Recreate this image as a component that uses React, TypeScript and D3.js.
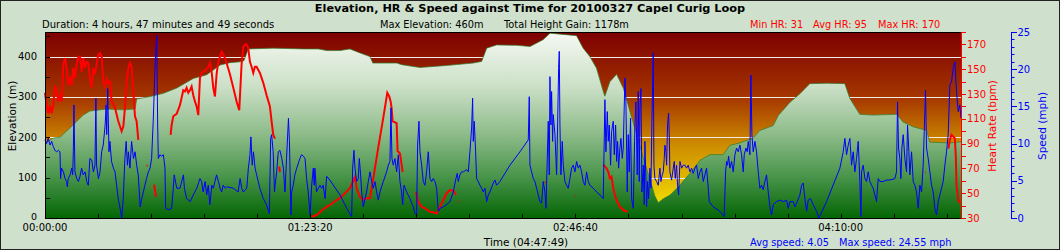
import React from 'react';
import * as d3 from 'd3';

// ---------- data ----------
const totalSeconds = 17269; // 4:47:49
const timeTickSeconds = [0, 5000, 10000, 15000];
const timeTickLabels = ['00:00:00', '01:23:20', '02:46:40', '04:10:00'];
const elevTickLabels = [0, 100, 200, 300, 400];
const hrTickLabels = [30, 50, 70, 90, 110, 130, 150, 170];
const speedTickLabels = [0, 5, 10, 15, 20, 25];

// [minutes, metres]
const elevationProfile: [number, number][] = [
  [0, 185], [2.6, 198], [4.7, 200], [8.9, 231], [12.0, 255], [14.1, 265], [19.4, 270], [24.6, 268],
  [28.3, 270], [28.8, 295], [33.0, 301], [37.2, 309], [41.4, 322], [46.6, 346], [50.8, 355],
  [55.0, 379], [58.1, 385], [61.3, 387], [62.5, 390], [63.9, 419], [71.7, 421], [81.2, 419],
  [85.9, 419], [88.5, 415], [92.7, 415], [95.8, 419], [99.0, 409], [102.1, 400], [103.0, 384],
  [110.5, 384], [112.1, 380], [117.8, 373], [126.2, 378], [134.5, 384], [137.2, 388], [138.8, 421],
  [141.9, 429], [148.2, 428], [152.4, 425], [156.5, 442], [158.7, 458], [162.8, 455], [167.0, 452],
  [169.1, 421], [171.2, 400], [173.3, 371], [175.4, 314], [175.9, 302], [177.5, 338], [179.6, 356],
  [181.7, 322], [183.8, 264], [185.9, 207], [188.0, 149], [190.1, 95], [191.6, 55], [192.7, 38],
  [194.3, 48], [196.4, 57], [198.5, 73], [202.6, 110], [205.8, 143], [208.9, 157], [213.1, 157],
  [215.2, 180], [218.3, 186], [222.5, 198], [224.6, 217], [228.8, 229], [230.4, 254], [234.1, 287],
  [237.2, 308], [240.3, 333], [245.6, 334], [251.3, 333], [252.9, 296], [256.0, 257], [260.2, 255],
  [267.6, 257], [269.6, 238], [272.8, 226], [277.0, 217], [278.0, 188], [284.3, 186], [287.8, 189],
];

// [minutes, bpm] ; null = gap in recording
const heartRate: [number, number | null][] = [
  [0, 131], [0.52, 121], [1.05, 114.5], [1.57, 121], [2.09, 114.5], [2.62, 121], [3.14, 137], [3.66, 133],
  [4.19, 124], [4.71, 129], [5.24, 124], [5.76, 154], [6.28, 159], [6.81, 150], [7.33, 137], [7.85, 144],
  [8.38, 137], [8.9, 151], [9.42, 143], [9.95, 154], [10.47, 160], [10.99, 160], [11.52, 148], [12.04, 159],
  [12.56, 151], [13.09, 156], [13.61, 155], [14.13, 142], [14.66, 135], [15.18, 151], [15.71, 146],
  [16.23, 154], [16.75, 162], [17.28, 163], [17.8, 160], [18.32, 140], [18.85, 136], [19.37, 142],
  [19.89, 139], [20.42, 140], [20.94, 124], [21.99, 119], [23.03, 108], [24.08, 100], [24.61, 104],
  [25.13, 119], [25.65, 140], [26.18, 151], [26.7, 155], [27.22, 152], [27.75, 132], [28.27, 112],
  [28.79, 108], [29.32, 93], [29.4, null],
  [32.0, 72.5], [32.2, 72], [32.3, null],
  [34.3, 57], [34.6, 51], [34.9, 47], [35.0, null],
  [39.47, 97], [39.79, 105], [40.31, 112], [41.36, 114], [42.4, 121], [43.45, 133], [43.97, 132],
  [44.5, 135], [45.02, 131], [45.54, 133], [46.07, 136], [46.59, 129], [47.12, 124], [47.64, 120],
  [48.16, 113], [48.69, 143], [49.21, 147], [49.73, 148], [50.78, 150], [51.3, 152], [51.83, 155],
  [52.35, 148], [52.87, 135], [53.4, 128], [53.92, 146], [54.44, 156], [54.97, 160], [55.49, 164],
  [56.01, 162], [56.54, 159], [57.06, 155], [58.11, 146], [59.16, 135], [60.2, 124], [61.04, 117],
  [61.77, 154], [62.3, 168], [62.82, 170], [63.35, 170], [63.87, 167], [64.39, 156], [64.92, 152],
  [65.44, 147], [65.96, 152], [66.48, 152], [67.53, 147], [68.58, 139], [69.63, 129], [70.67, 120],
  [71.2, 108], [71.72, 97], [72.25, 94], [72.3, null],
  [73.0, 79], [73.2, 78.5], [73.3, null],
  [73.6, 71.5], [73.8, 67], [73.9, null],
  [83.76, 31], [85.33, 32.4], [87.42, 37], [88.47, 39], [89.52, 40.5], [91.61, 44.5], [92.66, 46],
  [95.82, 54], [97.39, 63], [97.92, 54], [98.96, 47], [100.01, 44.5], [101.06, 46], [102.1, 46],
  [103.15, 62], [104.72, 87], [106.3, 111], [107.55, 131], [108.18, 128], [108.6, 124], [108.91, 118.6],
  [109.22, 108], [110.48, 106.5], [110.79, 84], [111.53, 82], [112.05, 73], [112.37, 67], [112.4, null],
  [116.55, 51], [117.29, 43], [118.33, 39], [119.38, 38], [120.95, 35], [122.0, 34.6], [123.05, 33.7],
  [124.09, 39], [125.14, 44.5], [126.19, 50], [127.23, 52.6], [128.28, 52], [129.12, 48.6], [129.2, null],
  [129.8, 43.5], [130.0, 43], [130.1, null],
  [157.0, 59], [157.2, 58.5], [157.3, null],
  [166.4, 48], [166.6, 48], [166.7, null],
  [175.39, 73], [176.44, 70], [176.96, 67.4], [177.49, 62], [178.01, 63.4], [178.54, 54], [179.06, 48.6],
  [179.58, 44.5], [180.63, 39], [181.68, 36.4], [183.04, 35], [183.1, null],
  [276.6, 66.6], [276.8, 66.6], [276.9, null],
  [283.88, 86], [284.3, 93], [284.82, 97], [285.35, 95.7], [285.87, 94.3], [286.19, 79.5], [286.4, 57],
  [286.92, 44.5], [287.45, 42],
];

// [minutes, mph]
const speed: [number, number][] = [
  [0, 10.5], [0.5, 10.0], [1.0, 10.7], [1.6, 9.8], [2.1, 10.3], [2.6, 9.6], [3.1, 9.1], [3.7, 8.9], [4.2, 9.1],
  [4.7, 8.9], [4.9, 5.3], [5.2, 6.7], [5.8, 6.2], [6.3, 5.3], [6.8, 4.9], [7.0, 4.2], [7.3, 5.3], [7.9, 5.8],
  [8.4, 6.7], [8.7, 5.8], [8.9, 8.9], [9.1, 15.2], [9.4, 6.2], [10.0, 5.3], [10.5, 4.9], [11.0, 5.6],
  [11.5, 6.7], [12.0, 5.8], [12.6, 6.2], [13.1, 4.9], [13.6, 4.4], [14.1, 8.0], [14.7, 7.8], [15.2, 6.2],
  [15.7, 7.1], [16.0, 16.1], [16.2, 7.1], [16.8, 5.3], [17.3, 6.2], [17.8, 8.9], [18.3, 9.8], [18.9, 12.5],
  [19.2, 15.2], [19.4, 11.2], [19.7, 17.4], [20.1, 8.9], [20.4, 10.3], [20.9, 7.6], [21.5, 6.7], [22.0, 6.2],
  [22.5, 4.4], [23.0, 2.6], [23.6, 1.3], [24.1, 0], [24.6, 2.6], [25.1, 8.0], [25.5, 10.3], [25.9, 7.1],
  [26.2, 8.9], [26.7, 6.7], [27.2, 10.3], [27.8, 8.0], [28.3, 8.9], [28.8, 7.1], [29.3, 5.8], [29.9, 1.5],
  [30.4, 2.6], [30.9, 3.5], [31.4, 4.4], [31.9, 5.3], [32.5, 6.2], [33.0, 6.7], [33.5, 8.0], [34.0, 13.0],
  [34.6, 20.6], [35.1, 24.55], [35.4, 12.5], [35.6, 8.0], [36.1, 8.5], [36.7, 8.3], [37.2, 8.5], [37.7, 6.7],
  [37.9, 1.3], [38.8, 1.1], [39.8, 1.3], [40.3, 4.0], [40.6, 5.8], [41.4, 4.0], [42.4, 4.0], [43.5, 5.8],
  [43.8, 4.0], [44.5, 2.6], [45.6, 2.2], [46.6, 3.1], [47.7, 4.0], [48.7, 5.3], [49.2, 4.9], [49.7, 3.5],
  [50.3, 4.9], [50.8, 3.1], [51.3, 4.4], [51.8, 1.8], [52.4, 4.4], [52.9, 4.0], [53.4, 4.9], [53.9, 5.8],
  [54.5, 4.9], [55.0, 4.0], [55.5, 3.5], [56.0, 4.4], [56.6, 4.0], [57.1, 4.2], [59.2, 4.0], [60.7, 3.5],
  [61.3, 5.3], [61.8, 4.0], [62.3, 3.5], [63.4, 4.0], [63.9, 6.7], [64.4, 8.5], [64.7, 10.9], [65.1, 7.1],
  [65.5, 8.9], [66.0, 6.7], [66.5, 5.8], [67.0, 4.9], [67.5, 4.0], [68.6, 2.6], [69.6, 1.8], [70.5, 0.6],
  [70.9, 10.7], [71.2, 11.2], [71.7, 8.9], [72.1, 3.5], [72.3, 4.4], [72.8, 6.2], [73.3, 8.9], [73.8, 9.1],
  [74.4, 8.0], [74.9, 6.7], [75.4, 3.5], [75.9, 8.0], [76.5, 13.4], [76.8, 10.3], [77.0, 6.2], [77.3, 0.4],
  [77.5, 3.5], [78.0, 4.4], [78.5, 5.8], [79.1, 6.7], [80.1, 8.0], [80.6, 8.5], [81.2, 8.3], [81.7, 8.0],
  [82.2, 5.3], [82.7, 3.5], [83.3, 0.4], [83.8, 4.4], [84.3, 6.7], [84.6, 4.4], [84.8, 6.7], [85.3, 3.5],
  [85.9, 4.0], [86.4, 4.4], [86.9, 4.0], [87.4, 4.4], [88.0, 2.6], [88.5, 5.6], [89.5, 5.1], [92.7, 3.1],
  [94.8, 1.3], [96.35, 0.2],
  [96.66, 6.7], [97.08, 9.1], [97.39, 6.7], [97.92, 4.9], [98.44, 5.3], [98.76, 8.0], [99.17, 5.8],
  [99.49, 3.5], [100.01, 1.5], [100.54, 2.6], [101.06, 3.5], [101.58, 4.9], [102.11, 6.2], [102.63, 4.9],
  [103.15, 4.0], [103.68, 4.9], [104.2, 3.5], [104.72, 2.4], [105.25, 3.5], [106.3, 4.9], [107.34, 6.2],
  [107.87, 7.1], [108.39, 7.6], [108.7, 14.8], [109.02, 8.0], [109.44, 7.1], [109.96, 8.0], [110.48, 6.2],
  [111.01, 8.5], [111.53, 4.9], [112.05, 3.5], [112.37, 1.8], [112.79, 4.4], [113.63, 3.5], [114.67, 2.6],
  [115.72, 1.5], [116.24, 0.6], [116.77, 0.4], [117.08, 9.8], [117.5, 13.0], [117.81, 8.9], [118.34, 7.1],
  [118.86, 4.9], [119.38, 4.4], [119.91, 6.2], [120.43, 8.9], [120.96, 5.3], [121.48, 4.9], [122.0, 5.3],
  [122.53, 4.9], [123.05, 4.0], [123.57, 0.9], [124.1, 1.3], [125.14, 1.5], [126.19, 1.8], [127.24, 2.2],
  [128.29, 3.5], [129.12, 5.3], [129.54, 6.0], [129.86, 4.9], [130.38, 5.8], [130.9, 6.2], [131.43, 6.2],
  [132.48, 6.5], [133.0, 6.2], [133.52, 8.9], [134.05, 12.1], [134.36, 16.1], [134.57, 10.3], [134.88, 13.0],
  [135.3, 8.9], [135.62, 5.3], [136.14, 4.9], [136.66, 4.4], [137.19, 4.0], [137.71, 3.5], [138.23, 4.0],
  [138.76, 2.2], [139.28, 3.1], [139.81, 3.5], [140.85, 4.7], [141.38, 5.1], [141.9, 4.4], [142.95, 4.9],
  [146.09, 7.1], [149.23, 8.9], [151.85, 10.5], [152.16, 16.3], [152.37, 7.1], [152.9, 6.2], [153.42, 5.3],
  [153.94, 4.9], [154.47, 4.0], [154.99, 3.1], [155.51, 2.2], [156.04, 2.0], [156.56, 4.9], [157.08, 3.5],
  [157.4, 1.3], [157.82, 8.0], [158.13, 13.0], [158.45, 5.8], [158.66, 19.0], [158.97, 12.5], [159.18, 17.0],
  [159.5, 10.3], [159.7, 13.9], [160.23, 11.2], [160.54, 8.0], [160.75, 5.8], [161.07, 12.5], [161.38, 20.1],
  [161.59, 22.4], [161.8, 12.5], [162.11, 5.8], [162.53, 10.3], [162.84, 7.1], [163.37, 4.9], [163.89, 4.4],
  [164.41, 4.0], [164.94, 5.3], [165.46, 6.7], [165.99, 7.1], [166.51, 6.2], [167.03, 7.6], [167.56, 6.7],
  [168.08, 7.1], [168.6, 6.2], [169.13, 4.9], [169.65, 4.4], [170.17, 6.2], [170.7, 4.9], [171.22, 4.4],
  [172.27, 4.0], [173.32, 3.5], [174.36, 3.1], [175.41, 2.6], [175.93, 15.9], [176.25, 8.9], [176.67, 14.3],
  [176.98, 10.3], [177.29, 12.5], [177.71, 7.1], [178.03, 11.6], [178.55, 13.0], [178.87, 8.5], [179.29, 12.5],
  [179.6, 7.6], [179.91, 10.3], [180.23, 6.7], [180.65, 9.4], [180.96, 10.7], [181.38, 8.0], [181.69, 9.4],
  [182.22, 18.8], [182.53, 15.6], [182.95, 3.5], [183.26, 11.2], [183.58, 6.2], [183.99, 13.4], [184.31, 2.6],
  [184.83, 1.3], [185.36, 12.5], [185.67, 15.6], [186.09, 5.8], [186.4, 17.0], [186.72, 4.9],
  [186.93, 14.8], [187.24, 17.4], [187.56, 3.5], [187.98, 7.1], [188.29, 1.8], [188.5, 10.3], [188.81, 5.3],
  [189.02, 1.5], [189.34, 4.9], [189.65, 2.6], [190.07, 6.7], [190.39, 4.0], [190.7, 13.0], [191.12, 22.2],
  [191.33, 7.1], [191.64, 5.3], [192.17, 4.9], [192.69, 4.4], [193.21, 6.7], [193.53, 4.9], [193.95, 5.8],
  [194.26, 6.2], [194.57, 8.0], [194.78, 9.8], [195.1, 8.9], [195.31, 7.1], [195.62, 12.5], [195.94, 14.1],
  [196.15, 11.2], [196.35, 6.2], [196.88, 5.1], [197.4, 6.7], [197.72, 7.6], [198.03, 5.3], [198.45, 7.1],
  [198.76, 4.4], [199.08, 3.1], [199.5, 7.6], [200.02, 6.7], [200.54, 7.1], [201.07, 7.1], [201.59, 6.7],
  [202.11, 7.1], [202.64, 6.2], [203.16, 6.7], [203.69, 6.0], [204.21, 6.7], [204.73, 7.1], [205.26, 5.3],
  [205.78, 6.2], [206.3, 6.7], [206.83, 4.9], [207.35, 5.8], [207.87, 6.7], [208.4, 4.0], [208.71, 2.2],
  [209.97, 1.5], [212.06, 0.9], [213.42, 0.2], [213.84, 6.2], [214.16, 7.6], [214.47, 7.1], [214.79, 8.3],
  [215.2, 6.7], [215.73, 7.6], [216.25, 6.2], [216.78, 8.5], [217.3, 9.4], [217.82, 8.9], [218.35, 9.8],
  [218.87, 8.5], [219.39, 6.2], [219.71, 8.5], [220.23, 9.4], [220.65, 8.9], [220.96, 10.3], [221.49, 8.5],
  [221.8, 19.2], [222.12, 11.2], [222.53, 8.9], [223.06, 10.3], [223.58, 8.9], [224.11, 6.2], [224.63, 4.0],
  [225.15, 4.4], [225.68, 3.8], [226.2, 4.9], [226.72, 5.8], [227.25, 3.5], [227.77, 1.5], [228.29, 0.4],
  [228.82, 1.8], [229.87, 2.2], [230.91, 2.4], [231.96, 2.2], [233.01, 2.4], [233.53, 1.3], [234.05, 2.2],
  [235.1, 2.2], [235.62, 1.5], [236.15, 2.0], [237.2, 3.1], [237.72, 4.4], [238.24, 4.7], [238.77, 2.6],
  [239.29, 0.9], [239.81, 2.4], [240.55, 2.6], [241.38, 1.8], [242.43, 0.9], [243.16, 0], [245.57, 2.2],
  [249.76, 6.7], [250.81, 8.9], [251.33, 10.7], [251.86, 8.5], [252.38, 9.8], [252.9, 10.7], [253.43, 7.1],
  [253.95, 8.9], [254.47, 6.2], [255.0, 8.0], [255.52, 10.3], [256.05, 4.9], [256.36, 0.2], [256.57, 6.2],
  [257.09, 7.1], [257.62, 5.3], [258.14, 4.9], [258.66, 6.2], [259.19, 4.9], [259.71, 4.4], [260.23, 4.0],
  [260.76, 3.1], [261.28, 2.2], [261.8, 5.3], [262.33, 4.9], [263.38, 4.9], [264.42, 5.1], [265.47, 5.1],
  [267.04, 5.3], [267.56, 6.2], [267.88, 15.6], [268.19, 9.4], [268.61, 8.0], [268.93, 5.3], [269.24, 9.4],
  [269.66, 11.2], [270.18, 8.0], [270.71, 6.2], [271.02, 12.5], [271.44, 8.9], [271.75, 5.8], [272.28, 8.9],
  [272.8, 4.9], [273.32, 4.4], [273.85, 3.5], [274.37, 1.3], [274.89, 4.4], [275.42, 3.5], [275.94, 7.1],
  [276.26, 11.6], [276.67, 17.2], [276.99, 9.4], [277.51, 8.0], [278.04, 6.2], [278.56, 4.4], [279.08, 3.5],
  [279.61, 1.3], [280.13, 0.4], [280.65, 2.2], [281.18, 3.1], [281.7, 4.0], [282.22, 4.9], [282.75, 7.1],
  [283.27, 8.9], [283.79, 11.2], [284.32, 17.9], [284.84, 18.3], [285.37, 20.1], [285.89, 21.0],
  [286.41, 17.0], [286.94, 14.3], [287.46, 15.2], [287.8, 13.4],
];

// ---------- layout ----------
const W = 1060;
const H = 250;
const L = 45, R = 961, T = 32, B = 218;
const FONT = 'DejaVu Sans, Verdana, sans-serif';

export default function App() {
  const x = d3.scaleLinear().domain([0, totalSeconds]).range([L, R]);
  const yE = d3.scaleLinear().domain([0, 461]).range([B, T]);
  const yH = d3.scaleLinear().domain([30, 180]).range([B, T]);
  const yS = d3.scaleLinear().domain([0, 25]).range([B, T]);

  const area = d3.area<[number, number]>()
    .x(d => x(d[0] * 60)).y0(B).y1(d => yE(d[1]));
  const elevTop = d3.line<[number, number]>()
    .x(d => x(d[0] * 60)).y(d => yE(d[1]));
  const hrLine = d3.line<[number, number | null]>()
    .defined(d => d[1] !== null)
    .x(d => x(d[0] * 60)).y(d => yH(d[1] as number));
  const spLine = d3.line<[number, number]>()
    .x(d => x(d[0] * 60)).y(d => yS(d[1]));

  const minorTime = d3.range(0, totalSeconds, 1000);
  const elevMinor = d3.range(0, 451, 50);
  const hrMinor = d3.range(30, 181, 10);
  const spMinor = d3.range(0, 26, 1);

  return (
    <svg width={W} height={H} style={{ position: 'absolute', left: 0, top: 0, display: 'block' }} fontFamily={FONT}>
      <style>{`body{margin:0}`}</style>
      <defs>
        <linearGradient id="bgGrad" gradientUnits="userSpaceOnUse" x1="0" y1={T} x2="0" y2={B}>
          <stop offset="0" stopColor="#7d0000" />
          <stop offset="0.35" stopColor="#a53600" />
          <stop offset="0.6" stopColor="#cc8a00" />
          <stop offset="0.85" stopColor="#e8c800" />
          <stop offset="1" stopColor="#fff000" />
        </linearGradient>
        <linearGradient id="elGrad" gradientUnits="userSpaceOnUse" x1="0" y1={T} x2="0" y2={B}>
          <stop offset="0" stopColor="#f6f9f3" />
          <stop offset="0.3" stopColor="#cadfc6" />
          <stop offset="0.55" stopColor="#8dbb89" />
          <stop offset="0.78" stopColor="#48944a" />
          <stop offset="1" stopColor="#046604" />
        </linearGradient>
      </defs>
      <rect x={0} y={0} width={W} height={H} fill="#cfe0cc" />
      <rect x={0.5} y={0.5} width={W - 1} height={H - 1} fill="none" stroke="#222" />

      {/* plot background */}
      <rect x={L} y={T} width={R - L} height={B - T} fill="url(#bgGrad)" />
      {elevTickLabels.filter(v => v > 0).map(v => (
        <line key={v} x1={L} x2={R} y1={Math.round(yE(v)) + 0.5} y2={Math.round(yE(v)) + 0.5} stroke="#f2ece6" strokeWidth={1} />
      ))}
      <path d={area(elevationProfile) || ''} fill="url(#elGrad)" />
      <path d={elevTop(elevationProfile) || ''} fill="none" stroke="#2f7a2f" strokeWidth={1} strokeOpacity={0.7} />

      {/* heart rate & speed */}
      <path d={hrLine(heartRate) || ''} fill="none" stroke="#ff0000" strokeWidth={2} strokeLinejoin="miter" />
      <path d={spLine(speed) || ''} fill="none" stroke="#0000ff" strokeWidth={1} />

      {/* frame */}
      <line x1={L} x2={R} y1={T + 0.5} y2={T + 0.5} stroke="#000" />
      <line x1={L} x2={R} y1={B + 0.5} y2={B + 0.5} stroke="#000" />
      <line x1={L + 0.5} x2={L + 0.5} y1={T} y2={B + 1} stroke="#000" />

      {/* left elevation axis */}
      {elevMinor.map(v => (
        <line key={v} x1={L} x2={L + 5} y1={Math.round(yE(v)) + 0.5} y2={Math.round(yE(v)) + 0.5} stroke="#000" />
      ))}
      {elevTickLabels.map(v => (
        <text key={v} x={37} y={v === 0 ? yE(v) + 1.5 : yE(v) + 3.5} fontSize={v === 0 ? 9.5 : 10} textAnchor="end" fill="#000">{v}</text>
      ))}
      <text transform={`translate(15.5,${116}) rotate(-90)`} fontSize={10.5} textAnchor="middle" fill="#000">Elevation (m)</text>

      {/* bottom time axis */}
      {minorTime.map(v => (
        <line key={v} x1={Math.round(x(v)) + 0.5} x2={Math.round(x(v)) + 0.5} y1={B - 4} y2={B} stroke="#000" />
      ))}
      {timeTickSeconds.map((v, i) => (
        <text key={v} x={x(v)} y={230.5} fontSize={10} textAnchor="middle" fill="#000">{timeTickLabels[i]}</text>
      ))}
      <text x={526} y={246} fontSize={10.5} textAnchor="middle" fill="#000">Time (04:47:49)</text>

      {/* heart rate axis */}
      <line x1={R + 0.5} x2={R + 0.5} y1={T} y2={B + 1} stroke="#ff0000" />
      {hrMinor.map(v => (
        <line key={v} x1={R} x2={R + 5} y1={Math.round(yH(v)) + 0.5} y2={Math.round(yH(v)) + 0.5} stroke="#ff0000" />
      ))}
      {hrTickLabels.map(v => (
        <text key={v} x={967} y={yH(v) + 3.5} fontSize={10} fill="#ff0000">{v}</text>
      ))}
      <text transform={`translate(995.5,${126}) rotate(-90)`} fontSize={10.5} textAnchor="middle" fill="#ff0000">Heart Rate (bpm)</text>

      {/* speed axis */}
      <line x1={1011.5} x2={1011.5} y1={T} y2={B + 1} stroke="#0000ff" />
      {spMinor.map(v => (
        <line key={v} x1={1011} x2={v % 5 === 0 ? 1017 : 1014.5} y1={Math.round(yS(v)) + 0.5} y2={Math.round(yS(v)) + 0.5} stroke="#0000ff" />
      ))}
      {speedTickLabels.map(v => (
        <text key={v} x={1017.5} y={yS(v) + 3.5} fontSize={10} fill="#0000ff">{v}</text>
      ))}
      <text transform={`translate(1045.5,${126}) rotate(-90)`} fontSize={10.5} textAnchor="middle" fill="#0000ff">Speed (mph)</text>

      {/* titles */}
      <text x={530} y={12} fontSize={11.3} fontWeight="bold" textAnchor="middle" fill="#000">Elevation, HR &amp; Speed against Time for 20100327 Capel Curig Loop</text>
      <text x={42} y={27.5} fontSize={10} fill="#000">Duration: 4 hours, 47 minutes and 49 seconds</text>
      <text x={380} y={27.5} fontSize={9.8} fill="#000">Max Elevation: 460m</text>
      <text x={504} y={27.5} fontSize={9.8} fill="#000">Total Height Gain: 1178m</text>
      <text x={750} y={27.5} fontSize={9.8} fill="#ff0000">Min HR: 31</text>
      <text x={813} y={27.5} fontSize={9.8} fill="#ff0000">Avg HR: 95</text>
      <text x={878} y={27.5} fontSize={9.8} fill="#ff0000">Max HR: 170</text>
      <text x={750} y={246} fontSize={9.8} fill="#0000ff">Avg speed: 4.05</text>
      <text x={839} y={246} fontSize={9.8} fill="#0000ff">Max speed: 24.55 mph</text>
    </svg>
  );
}
